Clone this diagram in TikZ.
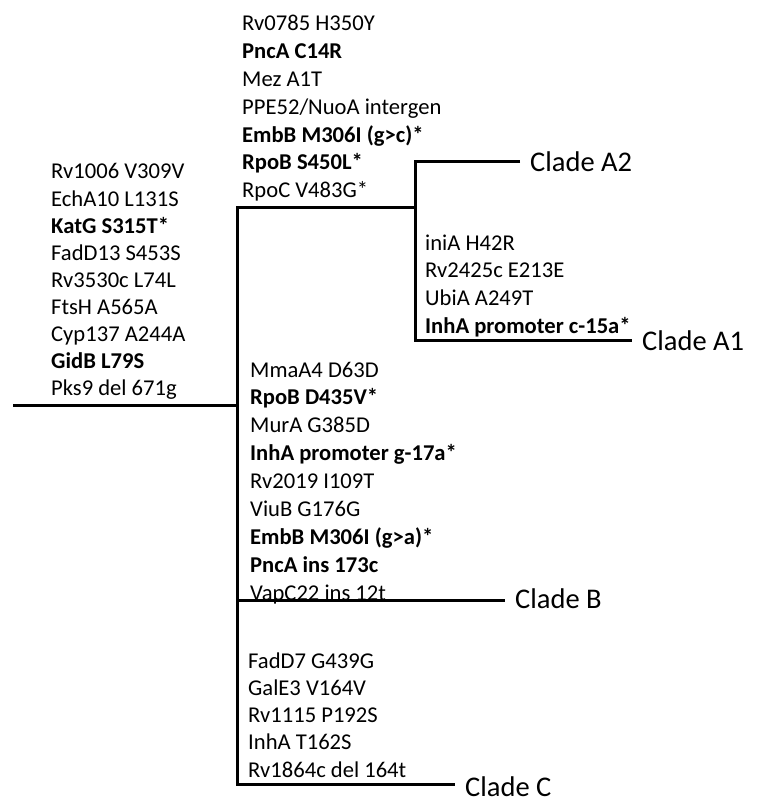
\documentclass[tikz,border=0pt]{standalone}
\usepackage{fontspec}
\setmainfont{Carlito}

\begin{document}
\begin{tikzpicture}[x=1pt, y=-1pt,
        mut/.style={anchor=base west, inner sep=0pt, font=\fontsize{22.6}{27}\selectfont},
        clade/.style={anchor=base west, inner xsep=10pt, inner ysep=0pt, font=\fontsize{28.5}{34}\selectfont},
        branch/.style={line width=3pt}]
    \useasboundingbox (0,0) rectangle (771,802);

    % tree joints
    \coordinate (root) at (13, 405);
    \coordinate (jroot) at (237, 405);
    \coordinate (jtop) at (237, 208);
    \coordinate (jA) at (415, 208);
    \coordinate (jAtop) at (415, 162);
    \coordinate (jAbot) at (415, 340);
    \coordinate (jB) at (237, 600);
    \coordinate (jC) at (237, 784);

    % clade labels
    \node[clade] (ca2) at (520, 172) {Clade A2};
    \node[clade] (ca1) at (632, 350) {Clade A1};
    \node[clade] (cb) at (505, 608) {Clade B};
    \node[clade] (cc) at (455, 796) {Clade C};

    % mutations on each branch
    \foreach \t [count=\i] in {Rv1006 V309V, EchA10 L131S, \textbf{KatG S315T*}, FadD13 S453S,
            Rv3530c L74L, FtsH A565A, Cyp137 A244A, \textbf{GidB L79S}, Pks9 del 671g}
        \node[mut] (lm\i) at (51, {179+27.1*(\i-1)}) {\t};

    \foreach \t [count=\i] in {Rv0785 H350Y, \textbf{PncA C14R}, Mez A1T, PPE52/NuoA intergen,
            \textbf{EmbB M306I (g>c)*}, \textbf{RpoB S450L*}, RpoC V483G*}
        \node[mut] (am\i) at (242, {31+27.8*(\i-1)}) {\t};

    \foreach \t [count=\i] in {iniA H42R, Rv2425c E213E, UbiA A249T, \textbf{InhA promoter c-15a*}}
        \node[mut] (a1m\i) at (425, {250+27.7*(\i-1)}) {\t};

    \foreach \t [count=\i] in {MmaA4 D63D, \textbf{RpoB D435V*}, MurA G385D, \textbf{InhA promoter g-17a*},
            Rv2019 I109T, ViuB G176G, \textbf{EmbB M306I (g>a)*}, \textbf{PncA ins 173c}, VapC22 ins 12t}
        \node[mut] (bm\i) at (250, {377+27.9*(\i-1)}) {\t};

    \foreach \t [count=\i] in {FadD7 G439G, GalE3 V164V, Rv1115 P192S, InhA T162S, Rv1864c del 164t}
        \node[mut] (cm\i) at (248, {668+27.25*(\i-1)}) {\t};

    \draw[branch]
    (root) -- (jroot)
    (jA) -- (jtop) -- (jC) -- (jC -| cc.west)
    (jAtop -| ca2.west) -- (jAtop) -- (jAbot) -- (jAbot -| ca1.west)
    (jB) -- (jB -| cb.west);
\end{tikzpicture}
\end{document}
